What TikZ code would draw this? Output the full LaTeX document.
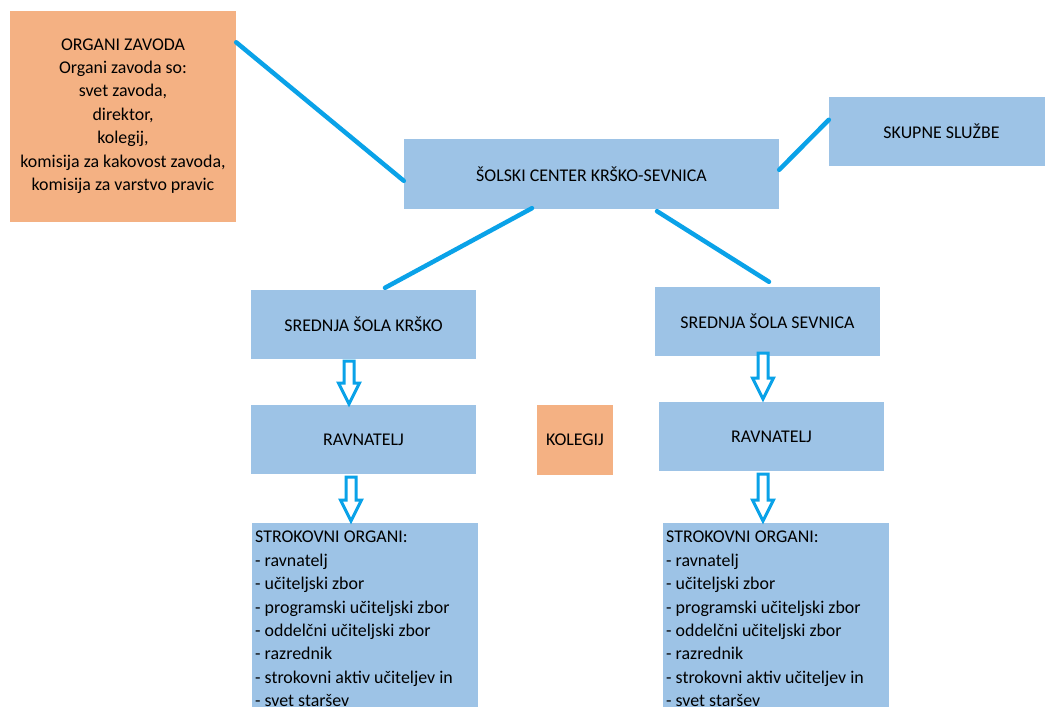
\documentclass[tikz,border=0pt]{standalone}
\usepackage{fontspec}
\setmainfont{Carlito}
\usetikzlibrary{calc}
\definecolor{boxblue}{HTML}{9DC3E6}
\definecolor{boxorange}{HTML}{F4B183}
\definecolor{lineblue}{HTML}{0AA2E8}
\newcommand\hollowdown[3]{%
  \draw[hollow] ({#1-5},{-(#2)}) -- ({#1-5},{-(#3-22)}) -- ({#1-10.5},{-(#3-22)}) -- (#1,{-(#3)+1}) -- ({#1+10.5},{-(#3-22)}) -- ({#1+5},{-(#3-22)}) -- ({#1+5},{-(#2)}) -- cycle;}
\begin{document}
\begin{tikzpicture}[x=1pt,y=1pt,
  box/.style={inner sep=0pt, font=\fontsize{17.9}{23.4}\selectfont, text=black},
  bluebox/.style={box, fill=boxblue},
  orangebox/.style={box, fill=boxorange},
  conn/.style={draw=lineblue, line width=4.5pt, line cap=round},
  hollow/.style={draw=lineblue, fill=white, line width=3pt, line join=miter},
  listtext/.style={inner sep=0pt, align=left, anchor=north west, font=\fontsize{17.9}{23.4}\selectfont, text=black}]
\useasboundingbox (0,0) rectangle (1045,-707);
\fill[white] (0,0) rectangle (1045,-707);
% boxes
\node[orangebox, minimum width=226, minimum height=211, align=center] (org) at (123,-116)
  {ORGANI ZAVODA\\Organi zavoda so:\\svet zavoda,\\direktor,\\kolegij,\\komisija za kakovost zavoda,\\komisija za varstvo pravic};
\node[bluebox, minimum width=375, minimum height=70] (sc) at (591.5,-174) {ŠOLSKI CENTER KRŠKO-SEVNICA};
\node[bluebox, minimum width=225, minimum height=69] (sk) at (941.5,-131.5) {SKUPNE SLUŽBE};
\node[bluebox, minimum width=225, minimum height=69] (kr) at (363.5,-324.5) {SREDNJA ŠOLA KRŠKO};
\node[bluebox, minimum width=225, minimum height=69] (sv) at (767.5,-321.5) {SREDNJA ŠOLA SEVNICA};
\node[bluebox, minimum width=225, minimum height=69] (rk) at (363.5,-439.5) {RAVNATELJ};
\node[orangebox, minimum width=76, minimum height=70] (kol) at (575,-440) {KOLEGIJ};
\node[bluebox, minimum width=225, minimum height=69] (rs) at (771.5,-436.5) {RAVNATELJ};
\node[bluebox, minimum width=226, minimum height=220, anchor=north west] (ks) at (252,-523) {};
\node[bluebox, minimum width=226, minimum height=220, anchor=north west] (ss) at (663,-523) {};
\node[listtext] (kst) at ([xshift=3pt,yshift=-8pt]ks.north west)
  {STROKOVNI ORGANI:\\- ravnatelj\\- učiteljski zbor\\- programski učiteljski zbor\\- oddelčni učiteljski zbor\\- razrednik\\- strokovni aktiv učiteljev in\\- svet staršev};
\node[listtext] (sst) at ([xshift=3pt,yshift=-8pt]ss.north west)
  {STROKOVNI ORGANI:\\- ravnatelj\\- učiteljski zbor\\- programski učiteljski zbor\\- oddelčni učiteljski zbor\\- razrednik\\- strokovni aktiv učiteljev in\\- svet staršev};
% connectors
\draw[conn] ([yshift=-32pt]org.north east) -- ([yshift=-42pt]sc.north west);
\draw[conn] ([yshift=-31pt]sc.north east) -- ([yshift=-23pt]sk.north west);
\draw[conn] ([xshift=-59.5pt,yshift=1pt]sc.south) -- ([xshift=21.5pt,yshift=2pt]kr.north);
\draw[conn] ([xshift=65.5pt,yshift=-2pt]sc.south) -- ([xshift=1.5pt,yshift=5pt]sv.north);
% hollow arrows
\hollowdown{349}{361}{405}
\hollowdown{351}{477}{522}
\hollowdown{763}{353}{400}
\hollowdown{763}{474}{522}
\end{tikzpicture}
\end{document}
